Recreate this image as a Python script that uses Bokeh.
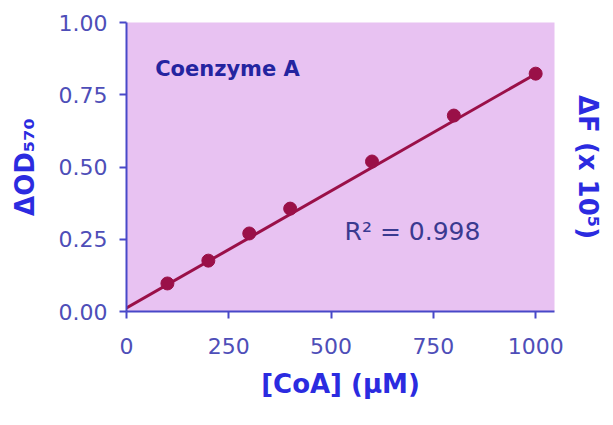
from bokeh.plotting import figure
from bokeh.models import LinearAxis, FixedTicker, NumeralTickFormatter, Range1d, Label
from bokeh.embed import file_html
from bokeh.resources import INLINE

# data
conc = [100, 200, 300, 400, 600, 800, 1000]
od = [0.097, 0.176, 0.270, 0.356, 0.519, 0.678, 0.823]
fit_x = [0, 1000]
fit_y = [0.012, 0.822]
x_ticks = [0, 250, 500, 750, 1000]
y_ticks = [0.0, 0.25, 0.5, 0.75, 1.0]
title_text = "Coenzyme A"
r2_text = "R² = 0.998"
x_label = "[CoA] (µM)"
y_label = "ΔOD₅₇₀"
y2_label = "ΔF (x 10⁵)"

FONT = "DejaVu Sans"
AXIS_COL = "#4848C8"
TICK_COL = "#4E4EB8"
LABEL_COL = "#2B2BE0"
DATA_COL = "#9A1048"
BG = "#E8C2F2"

p = figure(width=605, height=417, output_backend="svg", toolbar_location=None,
           x_range=Range1d(0, 1046), y_range=Range1d(0, 1.0),
           min_border_left=126, min_border_right=49, min_border_top=22,
           min_border_bottom=106)
p.background_fill_color = BG
p.border_fill_color = "white"
p.outline_line_color = None
p.grid.visible = False

for ax in (p.xaxis[0], p.yaxis[0]):
    ax.axis_line_color = AXIS_COL
    ax.axis_line_width = 2
    ax.major_tick_line_color = AXIS_COL
    ax.major_tick_line_width = 2
    ax.major_tick_out = 7
    ax.major_tick_in = 0
    ax.minor_tick_line_color = None
    ax.major_label_text_font = FONT
    ax.major_label_text_font_size = "22px"
    ax.major_label_text_color = TICK_COL
    ax.axis_label_text_font = FONT
    ax.axis_label_text_font_size = "26px"
    ax.axis_label_text_font_style = "bold"
    ax.axis_label_text_color = LABEL_COL

p.xaxis[0].ticker = FixedTicker(ticks=x_ticks)
p.yaxis[0].ticker = FixedTicker(ticks=y_ticks)
p.yaxis[0].formatter = NumeralTickFormatter(format="0.00")
p.xaxis[0].axis_label = x_label
p.yaxis[0].axis_label = y_label
p.xaxis[0].major_label_standoff = 19
p.yaxis[0].major_label_standoff = 12
p.xaxis[0].axis_label_standoff = 12
p.yaxis[0].axis_label_standoff = 16

right = LinearAxis(ticker=FixedTicker(ticks=[]), axis_label=y2_label)
right.axis_line_color = None
right.major_tick_line_color = None
right.minor_tick_line_color = None
right.major_label_text_color = None
right.axis_label_text_font = FONT
right.axis_label_text_font_size = "26px"
right.axis_label_text_font_style = "bold"
right.axis_label_text_color = LABEL_COL
right.axis_label_standoff = 18
p.add_layout(right, "right")

p.line(fit_x, fit_y, line_color=DATA_COL, line_width=3)
p.scatter(conc, od, size=13, fill_color=DATA_COL, line_color=DATA_COL)

p.add_layout(Label(x=70, y=0.84, text=title_text, text_font=FONT,
                   text_font_size="21px", text_font_style="bold",
                   text_color="#2424A0", text_baseline="middle"))
p.add_layout(Label(x=533, y=0.277, text=r2_text, text_font=FONT,
                   text_font_size="25px", text_color="#3A3A90",
                   text_baseline="middle"))

open("out.html", "w").write(file_html(p, INLINE))
